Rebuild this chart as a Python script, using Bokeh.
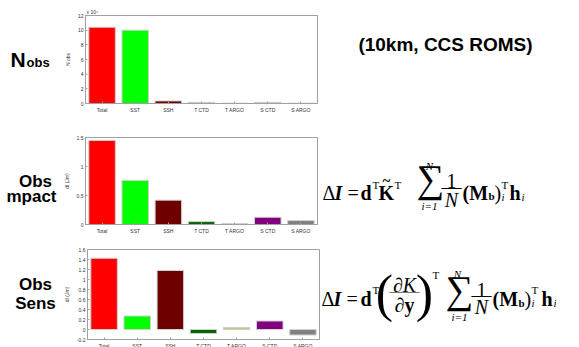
from bokeh.plotting import figure
from bokeh.models import (Range1d, FactorRange, FixedTicker, Label, ColumnDataSource,
                          CustomJSTickFormatter)
from bokeh.layouts import column, row
from bokeh.embed import file_html
from bokeh.resources import INLINE

# ---------------- data ----------------
categories = ["Total", "SST", "SSH", "T CTD", "T ARGO", "S CTD", "S ARGO"]
bar_colors = ["#ff0000", "#00ff00", "#6e0000", "#006400", "#c8c878", "#800080", "#808080"]
nobs_x1e4 = [10.4, 10.0, 0.35, 0.15, 0.05, 0.15, 0.05]
obs_impact = [1.45, 0.76, 0.42, 0.05, 0.017, 0.125, 0.068]
obs_sens = [1.425, 0.27, 1.18, -0.08, 0.04, 0.17, -0.11]
nobs_ticks = [0, 2, 4, 6, 8, 10, 12]
impact_ticks = [0, 0.5, 1, 1.5]
sens_ticks = [-0.2, 0, 0.2, 0.4, 0.6, 0.8, 1, 1.2, 1.4, 1.6]

SANS = "Liberation Sans"
SERIF = "Liberation Serif"
TOTAL_W = 579
FRAME_LEFT = 85
FRAME_RIGHT = 317
CHART_BL = 25            # chart left border
CHART_BR = 2             # chart right border
LEFT_W = FRAME_LEFT - CHART_BL
RIGHT_X0 = FRAME_RIGHT + CHART_BR
RIGHT_W = TOTAL_W - RIGHT_X0


def make_chart(values, ticks, y0, y1, ylabel, frame_h, b_top, b_bottom):
    p = figure(x_range=FactorRange(*categories, range_padding=0),
               y_range=Range1d(y0, y1),
               frame_width=FRAME_RIGHT - FRAME_LEFT, frame_height=frame_h,
               min_border_left=CHART_BL, min_border_right=CHART_BR,
               min_border_top=b_top, min_border_bottom=b_bottom,
               output_backend="svg", toolbar_location=None)
    src = ColumnDataSource(dict(cat=categories, val=values, color=bar_colors))
    p.vbar(x="cat", top="val", bottom=0, width=0.8, fill_color="color",
           line_color="#d0d0d0", line_width=1, source=src)
    p.xgrid.visible = False
    p.ygrid.visible = False
    p.outline_line_color = "#a0a0a0"
    p.outline_line_width = 1
    p.background_fill_color = "white"
    p.border_fill_color = "white"
    p.yaxis.ticker = FixedTicker(ticks=ticks)
    p.yaxis.formatter = CustomJSTickFormatter(code="return String(Math.round(tick*10)/10)")
    for ax in (p.xaxis[0], p.yaxis[0]):
        ax.axis_line_color = "#a0a0a0"
        ax.major_tick_line_color = "#a0a0a0"
        ax.major_tick_in = 2
        ax.major_tick_out = 0
        ax.minor_tick_line_color = None
        ax.major_label_text_font = SANS
        ax.major_label_text_font_size = "5px"
        ax.major_label_text_color = "#333333"
        ax.major_label_standoff = 2
    p.yaxis.axis_label = ylabel
    p.yaxis.axis_label_text_font = SANS
    p.yaxis.axis_label_text_font_size = "5px"
    p.yaxis.axis_label_text_font_style = "normal"
    p.yaxis.axis_label_text_color = "#333333"
    p.yaxis.axis_label_standoff = 4
    p.xaxis.major_label_standoff = 3
    return p


def text_panel(width, height):
    p = figure(x_range=Range1d(0, width), y_range=Range1d(height, 0),
               width=width, height=height, min_border=0,
               output_backend="svg", toolbar_location=None)
    p.axis.visible = False
    p.grid.visible = False
    p.outline_line_color = None
    p.background_fill_color = "white"
    p.border_fill_color = "white"
    return p


def lab(p, x0, y0, X, Y, text, size, font=SANS, style="normal",
        align="left", baseline="alphabetic", color="black"):
    p.add_layout(Label(x=X - x0, y=Y - y0, text=text, text_font=font,
                       text_font_size=f"{size}px", text_font_style=style,
                       text_align=align, text_baseline=baseline, text_color=color))


EQ = 20      # main equation font size
SUP = 11     # super/subscript size
SIG = 39     # summation sign size

# ---------------- row 1 : page y 0..125, frame 15..103 ----------------
R1, H1 = 0, 125
c1 = make_chart(nobs_x1e4, nobs_ticks, 0, 12, "N obs", 88, 15, 22)
c1.title.text = "x 10⁴"
c1.title.align = "left"
c1.title.text_font = SANS
c1.title.text_font_size = "5px"
c1.title.text_font_style = "normal"
c1.title.text_color = "#333333"
c1.title.offset = 1
c1.title.standoff = 2
l1 = text_panel(LEFT_W, H1)
lab(l1, 0, R1, 10, 62, "N", 21, style="bold")
lab(l1, 0, R1, 26, 67, "obs", 13, style="bold")
r1 = text_panel(RIGHT_W, H1)
lab(r1, RIGHT_X0, R1, 445, 41, "(10km, CCS ROMS)", 19, style="bold", align="center")

# ---------------- row 2 : page y 125..240, frame 137..224 ----------------
R2, H2 = 125, 115
c2 = make_chart(obs_impact, impact_ticks, 0, 1.5, "dI (Jm)", 87, 12, 16)
l2 = text_panel(LEFT_W, H2)
lab(l2, 0, R2, 35, 183, "Obs", 17, style="bold", align="center")
lab(l2, 0, R2, 31, 203, "mpact", 17, style="bold", align="center")
r2 = text_panel(RIGHT_W, H2)
x0 = RIGHT_X0
lab(r2, x0, R2, 322, 198, "Δ", EQ, SERIF)
lab(r2, x0, R2, 334, 198, "I", EQ, SERIF, "bold italic")
lab(r2, x0, R2, 347, 198, "=", EQ, SERIF)
lab(r2, x0, R2, 360, 198, "d", EQ, SERIF, "bold")
lab(r2, x0, R2, 372, 188, "T", SUP, SERIF)
lab(r2, x0, R2, 378, 198, "K", EQ, SERIF, "bold")
lab(r2, x0, R2, 386, 182, "~", 15, SERIF, "bold", align="center")
lab(r2, x0, R2, 394, 188, "T", SUP, SERIF)
lab(r2, x0, R2, 430, 208, "∑", SIG, SERIF, align="center", baseline="bottom")
lab(r2, x0, R2, 429, 163, "N", SUP, SERIF, "italic", align="center")
lab(r2, x0, R2, 429, 216, "i=1", SUP, SERIF, "italic", align="center")
lab(r2, x0, R2, 451, 183, "1", EQ, SERIF, align="center")
lab(r2, x0, R2, 451, 191, "—", EQ, SERIF, align="center")
lab(r2, x0, R2, 451, 207, "N", EQ, SERIF, "italic", align="center")
lab(r2, x0, R2, 462, 198, "(M", EQ, SERIF, "bold")
lab(r2, x0, R2, 488, 202, "b", SUP, SERIF, "bold")
lab(r2, x0, R2, 494, 198, ")", EQ, SERIF)
lab(r2, x0, R2, 501, 188, "T", SUP, SERIF)
lab(r2, x0, R2, 501, 203, "i", SUP, SERIF, "italic")
lab(r2, x0, R2, 509, 198, "h", EQ, SERIF, "bold")
lab(r2, x0, R2, 521, 203, "i", SUP, SERIF, "italic")

# ---------------- row 3 : page y 240..347, frame 249..339 ----------------
R3, H3 = 240, 107
c3 = make_chart(obs_sens, sens_ticks, -0.2, 1.6, "dI (Jm)", 90, 9, 8)
l3 = text_panel(LEFT_W, H3)
lab(l3, 0, R3, 35, 284, "Obs", 17, style="bold", align="center")
lab(l3, 0, R3, 35, 307, "Sens", 17, style="bold", align="center")
r3 = text_panel(RIGHT_W, H3)
x0 = RIGHT_X0 - 6   # equation drawn 6px right of its reference place
lab(r3, x0, R3, 313, 302, "Δ", EQ, SERIF)
lab(r3, x0, R3, 325, 302, "I", EQ, SERIF, "bold italic")
lab(r3, x0, R3, 338, 302, "=", EQ, SERIF)
lab(r3, x0, R3, 352, 302, "d", EQ, SERIF, "bold")
lab(r3, x0, R3, 364, 290, "T", SUP, SERIF)
lab(r3, x0, R3, 376, 295, "(", 52, SERIF, align="center", baseline="middle")
lab(r3, x0, R3, 396, 284, "∂K", EQ, SERIF, "italic", align="center")
lab(r3, x0, R3, 396, 292, "——", 15, SERIF, align="center")
lab(r3, x0, R3, 396, 309, "∂y", EQ, SERIF, "bold", align="center")
lab(r3, x0, R3, 416, 295, ")", 52, SERIF, align="center", baseline="middle")
lab(r3, x0, R3, 424, 272, "T", SUP, SERIF)
lab(r3, x0, R3, 451, 317, "∑", SIG, SERIF, align="center", baseline="bottom")
lab(r3, x0, R3, 449, 271, "N", SUP, SERIF, "italic", align="center")
lab(r3, x0, R3, 451, 324, "i=1", SUP, SERIF, "italic", align="center")
lab(r3, x0, R3, 473, 290, "1", EQ, SERIF, align="center")
lab(r3, x0, R3, 473, 297, "—", EQ, SERIF, align="center")
lab(r3, x0, R3, 473, 312, "N", EQ, SERIF, "italic", align="center")
lab(r3, x0, R3, 484, 302, "(M", EQ, SERIF, "bold")
lab(r3, x0, R3, 510, 306, "b", SUP, SERIF, "bold")
lab(r3, x0, R3, 516, 302, ")", EQ, SERIF)
lab(r3, x0, R3, 523, 290, "T", SUP, SERIF)
lab(r3, x0, R3, 523, 307, "i", SUP, SERIF, "italic")
lab(r3, x0, R3, 533, 302, "h", EQ, SERIF, "bold")
lab(r3, x0, R3, 545, 307, "i", SUP, SERIF, "italic")

layout = column(row(l1, c1, r1, spacing=0),
                row(l2, c2, r2, spacing=0),
                row(l3, c3, r3, spacing=0), spacing=0)
open("out.html", "w").write(file_html(layout, INLINE))
